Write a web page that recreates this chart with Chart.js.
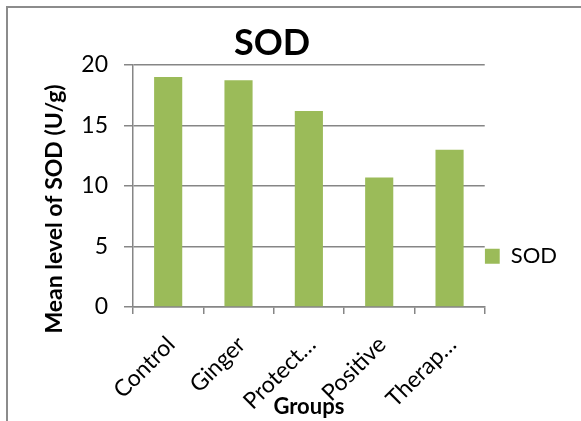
<!DOCTYPE html>
<html>
<head>
<meta charset="utf-8">
<script src="https://cdn.jsdelivr.net/npm/chart.js"></script>
<style>
  html, body { margin: 0; padding: 0; background: #fff; }
  #wrap { width: 581px; height: 421px; position: relative; }
</style>
</head>
<body>
<div id="wrap"><canvas id="sodChart" width="581" height="421"></canvas></div>
<script>
// Chart data
const groups = ['Control', 'Ginger', 'Protect…', 'Positive', 'Therap…'];
const sodValues = [19.0, 18.75, 16.2, 10.7, 13.0];
const yTicks = [0, 5, 10, 15, 20];

const chartTitle = 'SOD';
const yTitle = 'Mean level of SOD (U/g)';
const xTitle = 'Groups';

const FONT = 'Lato, "Open Sans", sans-serif';

// Frame around the chart plus the main title and the y title, placed like the Excel chart
const decorPlugin = {
  id: 'decor',
  beforeDraw(chart) {
    const ctx = chart.ctx;
    ctx.save();
    ctx.fillStyle = '#fff';
    ctx.fillRect(0, 0, chart.width, chart.height);
    ctx.strokeStyle = '#8c8c8c';
    ctx.lineWidth = 2;
    ctx.strokeRect(7, 7, 700, 600);
    ctx.restore();
  },
  afterDraw(chart) {
    const ctx = chart.ctx;
    ctx.save();
    ctx.fillStyle = '#000';
    ctx.textAlign = 'center';
    ctx.textBaseline = 'alphabetic';
    ctx.font = 'bold 36px ' + FONT;
    ctx.fillText(chartTitle, 272, 55);

    ctx.translate(55, 209);
    ctx.rotate(-Math.PI / 2);
    ctx.textBaseline = 'middle';
    ctx.font = 'bold 23px ' + FONT;
    ctx.fillText(yTitle, 0, 0);
    ctx.restore();
  }
};

new Chart(document.getElementById('sodChart').getContext('2d'), {
  type: 'bar',
  data: {
    labels: groups,
    datasets: [{
      label: 'SOD',
      data: sodValues,
      backgroundColor: '#9bbb59',
      borderWidth: 0,
      barPercentage: 0.5,
      categoryPercentage: 0.8
    }]
  },
  options: {
    responsive: false,
    animation: false,
    layout: { padding: { left: 8, right: 14, top: 65, bottom: 0 } },
    plugins: {
      title: { display: false },
      legend: {
        position: 'right',
        title: {
          display: true,
          text: ' ',
          font: { size: 2 },
          padding: { top: 24, bottom: 0 }
        },
        labels: {
          color: '#000',
          boxWidth: 15,
          boxHeight: 15,
          padding: 0,
          font: { family: FONT, size: 22 }
        }
      },
      tooltip: { enabled: false }
    },
    scales: {
      x: {
        afterFit(axis) { axis.height = 114; },
        grid: {
          drawOnChartArea: false,
          color: '#868686',
          lineWidth: 1.5,
          tickLength: 7,
          offset: true
        },
        border: { color: '#868686', width: 1.5 },
        ticks: {
          color: '#000',
          minRotation: 45,
          maxRotation: 45,
          padding: 17,
          labelOffset: 3,
          font: { family: FONT, size: 23 }
        },
        title: {
          display: true,
          text: xTitle,
          color: '#000',
          font: { family: FONT, size: 22, weight: 'bold' },
          padding: { top: 0, bottom: 1 }
        }
      },
      y: {
        min: 0,
        max: 20,
        afterFit(axis) { axis.width = 125; },
        afterBuildTicks(axis) {
          axis.ticks = yTicks.map(v => ({ value: v }));
        },
        grid: {
          color: '#868686',
          lineWidth: 1.5,
          tickLength: 9
        },
        border: { color: '#868686', width: 1.5 },
        ticks: {
          color: '#000',
          padding: 16,
          font: { family: FONT, size: 23 }
        },
        title: { display: false }
      }
    }
  },
  plugins: [decorPlugin]
});
</script>
</body>
</html>
